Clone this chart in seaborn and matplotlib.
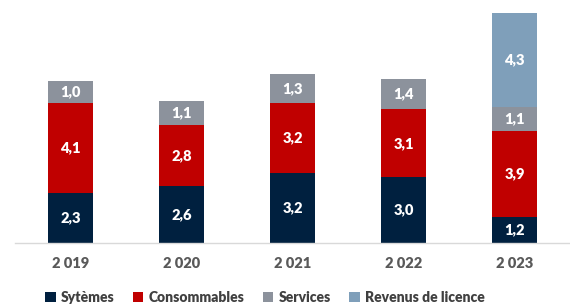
import numpy as np
import matplotlib
matplotlib.use("Agg")
import matplotlib.pyplot as plt
import seaborn as sns

# data
years = ["2 019", "2 020", "2 021", "2 022", "2 023"]
systemes = [2.3, 2.6, 3.2, 3.0, 1.2]
consommables = [4.1, 2.8, 3.2, 3.1, 3.9]
services = [1.0, 1.1, 1.3, 1.4, 1.1]
licence = [0.0, 0.0, 0.0, 0.0, 4.3]

series_names = ["Sytèmes", "Consommables", "Services", "Revenus de licence"]
series_vals = [systemes, consommables, services, licence]
colors = ["#00203F", "#C00000", "#8C929C", "#7F9FBA"]

sns.set_theme(style="white")
plt.rcParams["font.family"] = ["Lato", "DejaVu Sans"]

fig = plt.figure(figsize=(5.7, 3.04), dpi=100)
ax = fig.add_axes([15 / 570, 61 / 304, 555 / 570, 230 / 304])

bottom = np.zeros(len(years))
for name, vals, col in zip(series_names, series_vals, colors):
    vals = np.array(vals)
    sns.barplot(x=years, y=vals, bottom=bottom, color=col, width=0.4,
                linewidth=0, label=name, ax=ax, saturation=1)
    cont = ax.containers[-1]
    labels = [f"{v:.1f}".replace(".", ",") if v > 0 else "" for v in vals]
    ax.bar_label(cont, labels=labels, label_type="center", color="white",
                 fontsize=10.5, fontweight="heavy")
    bottom = bottom + vals

ax.set_ylim(0, 10.5)
ax.set_xlim(-0.5, 4.5)
ax.set_yticks([])
ax.set_ylabel("")
for s in ["top", "right", "left"]:
    ax.spines[s].set_visible(False)
ax.spines["bottom"].set_color("#D9D9D9")
ax.spines["bottom"].set_linewidth(1)
ax.tick_params(axis="x", length=0, pad=10, labelsize=10.5, labelcolor="#595959")
for t in ax.get_xticklabels():
    t.set_fontweight("heavy")

leg = ax.legend(loc="center", bbox_to_anchor=(265 / 570, 1 - 297 / 304),
                bbox_transform=fig.transFigure, ncol=4, frameon=False,
                handlelength=0.75, handleheight=0.75, handletextpad=0.4,
                columnspacing=1.3, prop={"weight": "heavy", "size": 10})
for t in leg.get_texts():
    t.set_color("#404040")

fig.savefig("out.png", dpi=100)
